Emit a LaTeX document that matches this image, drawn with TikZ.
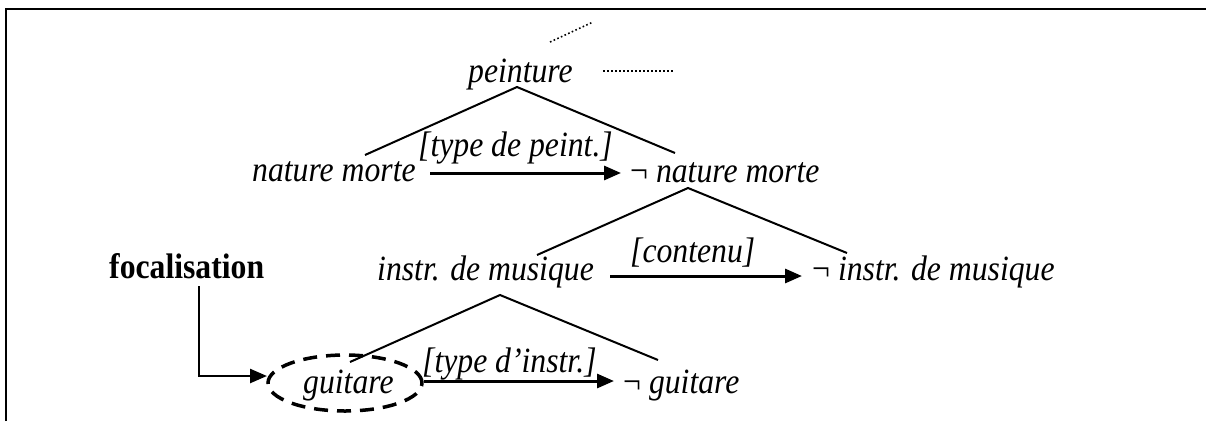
\documentclass[tikz,border=0pt]{standalone}
\usepackage{fontspec}
\setmainfont{Liberation Serif}[FakeStretch=0.893]
\usetikzlibrary{arrows.meta,shapes.geometric}
\begin{document}
\begin{tikzpicture}[x=1pt,y=-1pt,
  lbl/.style={font=\fontsize{35.5}{42}\selectfont\itshape, inner sep=0pt, anchor=base west},
  fbold/.style={font=\fontsize{35.5}{42}\selectfont\bfseries, inner sep=0pt, anchor=base west},
  tree/.style={line width=2pt},
  arr/.style={line width=3pt, -{Triangle[length=17pt,width=14pt]}},
  farr/.style={line width=2.5pt, -{Triangle[length=17pt,width=14pt]}},
  dots/.style={line width=1.6pt, dash pattern=on 1.6pt off 2.4pt},
  ell/.style={draw, ellipse, line width=3.5pt, dash pattern=on 14pt off 9pt, minimum width=154pt, minimum height=56pt, inner sep=0pt},
  frame/.style={line width=2.6pt}
]
\useasboundingbox (0,0) rectangle (1206,421);
% frame
\coordinate (fbl) at (6,421);
\coordinate (ftl) at (6,9);
\coordinate (ftr) at (1206,9);
\draw[frame] (fbl) -- (ftl) -- (ftr);

% dotted marks
\coordinate (d1) at (550,42);
\coordinate (d2) at (593,22);
\coordinate (d3) at (603,71);
\coordinate (d4) at (673,71);
\draw[dots] (d1) -- (d2);
\draw[dots] (d3) -- (d4);

% nodes
\node[lbl] (pe) at (468,82) {peinture};
\node[lbl] (nm) at (252,181) {nature morte};
\node[lbl] (tp) at (418,156) {[type de peint.]};
\node[lbl] (nnm) at (630,182) {{\upshape ¬} nature morte};
\node[lbl] (im) at (377,280) {instr. de musique};
\node[lbl] (ct) at (630,262) {[contenu]};
\node[lbl] (nim) at (812,280) {{\upshape ¬} instr. de musique};
\node[fbold] (foc) at (109,278) {focalisation};
\node[ell] (gel) at (345,383) {};
\node[lbl] (gu) at (303,393) {guitare};
\node[lbl] (ti) at (422,372) {[type d’instr.]};
\node[lbl] (ngu) at (623,393) {{\upshape ¬} guitare};

% trees
\coordinate (a1) at (517,87);
\coordinate (l1) at (365,155);
\coordinate (r1) at (675,153);
\draw[tree] (l1) -- (a1) -- (r1);
\coordinate (a2) at (688,188);
\coordinate (l2) at (537,255);
\coordinate (r2) at (847,253);
\draw[tree] (l2) -- (a2) -- (r2);
\coordinate (a3) at (500,295);
\coordinate (l3) at (350,362);
\coordinate (r3) at (658,360);
\draw[tree] (l3) -- (a3) -- (r3);

% arrows
\coordinate (s1) at (430,173);
\coordinate (e1) at (621,173);
\draw[arr] (s1) -- (e1);
\coordinate (s2) at (610,276);
\coordinate (e2) at (802,276);
\draw[arr] (s2) -- (e2);
\coordinate (e3) at (614,381);
\draw[arr] (gel.east |- e3) -- (e3);

% focalisation connector
\coordinate (f0) at (199,286);
\coordinate (f1) at (267,376);
\draw[farr] (f0) |- (f1);
\end{tikzpicture}
\end{document}
